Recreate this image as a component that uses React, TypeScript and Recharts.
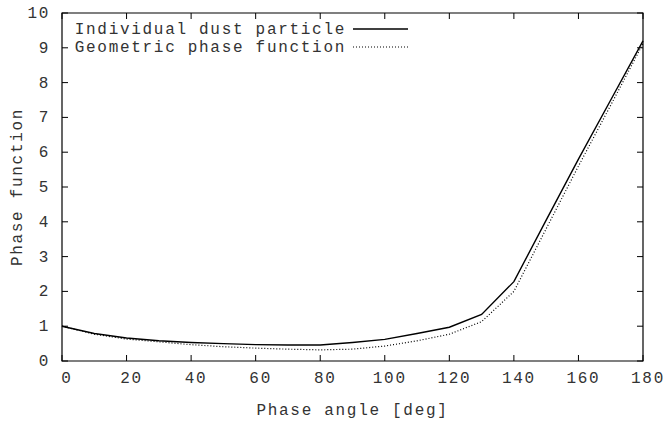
import { LineChart, Line, XAxis, YAxis, ReferenceArea, Legend } from 'recharts';

// phase angle samples [deg]
const angles = [0, 10, 20, 30, 40, 50, 60, 70, 80, 90, 100, 110, 120, 130, 140, 150, 160, 170, 180];
const dustParticle = [1.0, 0.79, 0.66, 0.58, 0.53, 0.5, 0.47, 0.46, 0.46, 0.53, 0.62, 0.79, 0.97, 1.34, 2.28, 4.05, 5.8, 7.5, 9.2];
const geometricPhase = [1.0, 0.77, 0.63, 0.55, 0.47, 0.41, 0.37, 0.34, 0.32, 0.34, 0.43, 0.58, 0.77, 1.13, 2.0, 3.8, 5.6, 7.35, 9.12];
const seriesNames = ['Individual dust particle', 'Geometric phase function'];
const xTicks = [0, 20, 40, 60, 80, 100, 120, 140, 160, 180];
const yTicks = [0, 1, 2, 3, 4, 5, 6, 7, 8, 9, 10];

const data = angles.map((a, i) => ({ angle: a, dust: dustParticle[i], geo: geometricPhase[i] }));

const W = 666;
const H = 423;
const TOP = 13;
const RIGHT = 643;
const TICK = 6;
const FONT = "'Liberation Mono', 'DejaVu Sans Mono', monospace";
const textStyle = { fontFamily: FONT, fontSize: 16, letterSpacing: 1.7, fill: '#333' };

const XTick = (props: any) => {
  const { x, y, payload } = props;
  return (
    <g>
      <line x1={x} y1={y} x2={x} y2={y - TICK} stroke="#000" />
      <line x1={x} y1={TOP} x2={x} y2={TOP + TICK} stroke="#000" />
      <text x={x + 5} y={y + 22} textAnchor="middle" style={textStyle}>
        {payload.value}
      </text>
    </g>
  );
};

const YTick = (props: any) => {
  const { x, y, payload } = props;
  return (
    <g>
      <line x1={x} y1={y} x2={x + TICK} y2={y} stroke="#000" />
      <line x1={RIGHT - TICK} y1={y} x2={RIGHT} y2={y} stroke="#000" />
      <text x={x - 12} y={y + 5} textAnchor="end" style={textStyle}>
        {payload.value}
      </text>
    </g>
  );
};

const LegendBox = () => (
  <svg width={420} height={60}>
    {seriesNames.map((name, i) => (
      <g key={name}>
        <text x={346} y={34 + i * 18} textAnchor="end" style={textStyle}>
          {name}
        </text>
        <line
          x1={353}
          x2={408}
          y1={29 + i * 18}
          y2={29 + i * 18}
          stroke="#000"
          strokeWidth={i === 0 ? 1.4 : 1.2}
          strokeDasharray={i === 0 ? undefined : '1 2'}
        />
      </g>
    ))}
  </svg>
);

export default function App() {
  return (
    <div style={{ position: 'absolute', left: 0, top: 0, width: W, height: H, background: '#fff' }}>
      <LineChart width={W} height={H} data={data} margin={{ top: TOP, right: W - RIGHT, left: 0, bottom: 0 }}>
        <XAxis
          dataKey="angle"
          type="number"
          domain={[0, 180]}
          ticks={xTicks}
          interval={0}
          height={62}
          tickSize={0}
          tickMargin={0}
          tickLine={false}
          axisLine={false}
          tick={<XTick />}
          label={{
            value: 'Phase angle [deg]',
            position: 'insideBottom',
            offset: 8,
            style: { ...textStyle, textAnchor: 'middle' },
          }}
        />
        <YAxis
          type="number"
          domain={[0, 10]}
          ticks={yTicks}
          interval={0}
          width={62}
          tickSize={0}
          tickMargin={0}
          tickLine={false}
          axisLine={false}
          tick={<YTick />}
          label={({ viewBox }: any) => {
            const cx = viewBox.x + 22;
            const cy = viewBox.y + viewBox.height / 2;
            return (
              <text x={cx} y={cy} transform={`rotate(-90, ${cx}, ${cy})`} textAnchor="middle" style={textStyle}>
                Phase function
              </text>
            );
          }}
        />
        <ReferenceArea x1={0} x2={180} y1={0} y2={10} stroke="#000" strokeWidth={1.2} fill="none" fillOpacity={0} />
        <Legend
          layout="vertical"
          align="center"
          verticalAlign="middle"
          content={<LegendBox />}
          wrapperStyle={{ position: 'absolute', left: 0, top: 0, width: 420, height: 60 }}
        />
        <Line
          type="linear"
          dataKey="dust"
          name={seriesNames[0]}
          stroke="#000"
          strokeWidth={1.4}
          dot={false}
          isAnimationActive={false}
        />
        <Line
          type="linear"
          dataKey="geo"
          name={seriesNames[1]}
          stroke="#000"
          strokeWidth={1.2}
          strokeDasharray="1 2"
          dot={false}
          isAnimationActive={false}
        />
      </LineChart>
    </div>
  );
}
